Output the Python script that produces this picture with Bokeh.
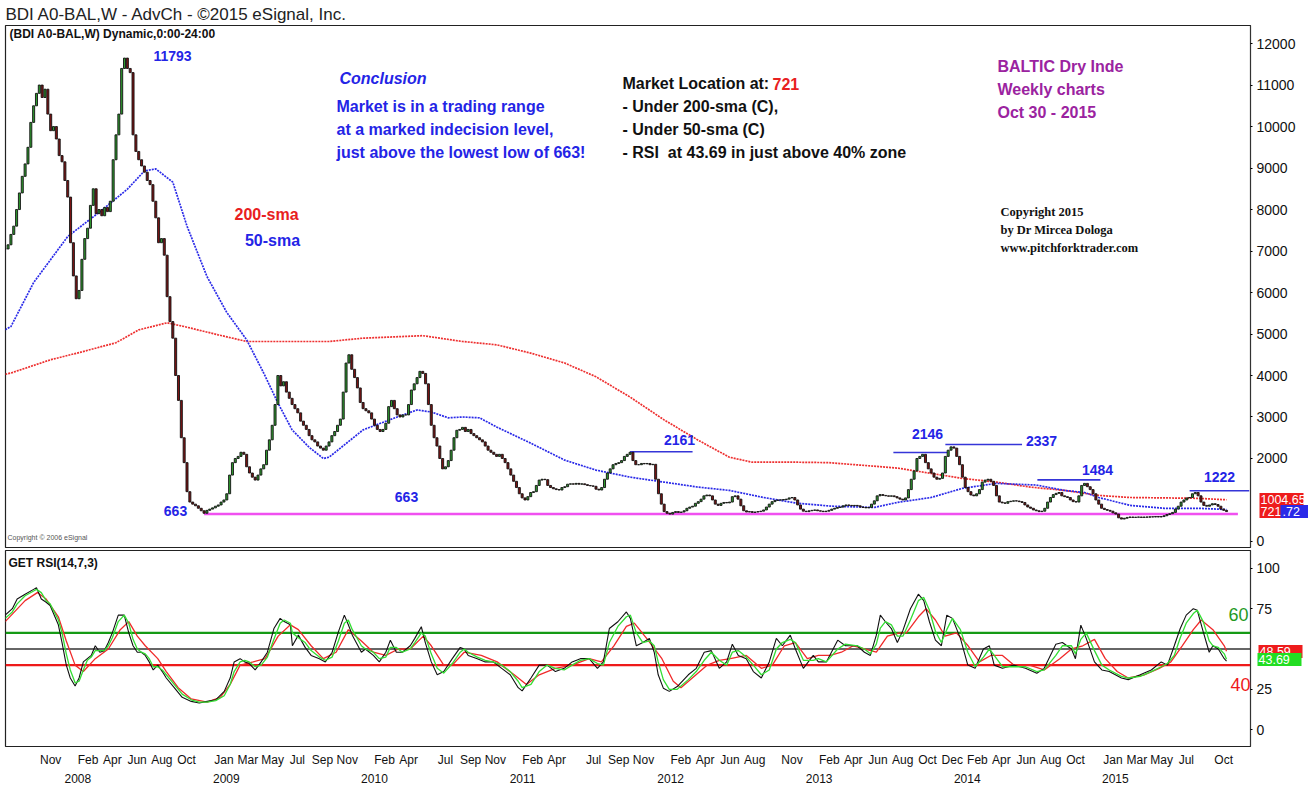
import numpy as np
import pandas as pd
from bokeh.plotting import figure
from bokeh.layouts import column
from bokeh.models import Range1d, LinearAxis, FixedTicker, Label, Span, ColumnDataSource
from bokeh.embed import file_html
from bokeh.resources import INLINE

# ---------------- data ----------------
first_week = "2007-08-03"
closes = [
    7050, 7150, 7400, 7600, 8000, 8400, 8800, 9100, 9500, 10100,
    10500, 10800, 11000, 10700, 10900, 10300, 9900, 10000, 9700, 9300,
    9150, 8700, 8300, 7200, 6400, 5850, 6050, 6800, 7300, 7550,
    8100, 8500, 7900, 8000, 7850, 8050, 7950, 8200, 9200, 9800,
    10300, 11400, 11650, 11400, 11300, 9800, 9400, 9200, 9050, 8900,
    8700, 8600, 8200, 7800, 7200, 7300, 6900, 5900, 5300, 4900,
    4000, 3400, 2500, 1900, 1200, 950, 900, 860, 800, 740,
    680, 750, 780, 810, 850, 880, 950, 1000, 1150, 1600,
    1900, 2000, 2050, 2150, 2100, 1800, 1650, 1550, 1480, 1600,
    1750, 1850, 2200, 2450, 2800, 3300, 4000, 3750, 3850, 3600,
    3450, 3300, 3200, 3100, 2900, 2800, 2700, 2550, 2450, 2400,
    2300, 2250, 2200, 2300, 2400, 2550, 2650, 2800, 2950, 3600,
    4300, 4500, 4150, 3950, 3700, 3350, 3200, 3150, 3100, 2950,
    2800, 2700, 2650, 2700, 2850, 3250, 3400, 3200, 3050, 3000,
    3050, 3050, 3300, 3650, 3800, 3950, 4100, 4050, 3800, 3300,
    2800, 2500, 2300, 2000, 1750, 1800, 1950, 2200, 2500, 2680,
    2700, 2750, 2650, 2700, 2600, 2550, 2500, 2450, 2400, 2300,
    2200, 2150, 2100, 2050, 2100, 2000, 1900, 1750, 1600, 1450,
    1300, 1150, 1050, 1000, 1080, 1180, 1200, 1350, 1480, 1500,
    1490, 1350, 1300, 1270, 1250, 1240, 1300, 1320, 1380, 1390,
    1380, 1400, 1380, 1390, 1370, 1350, 1340, 1330, 1260, 1240,
    1300, 1500, 1650, 1750, 1850, 1880, 1900, 1950, 2050, 2100,
    2150, 1950, 1850, 1850, 1880, 1870, 1880, 1850, 1860, 1500,
    1150, 900, 720, 680, 660, 700, 720, 700, 710, 740,
    800, 830, 850, 920, 960, 1020, 1100, 1120, 1100, 1000,
    900, 870, 920, 940, 930, 950, 1080, 1100, 1020, 860,
    740, 710, 720, 700, 710, 720, 730, 760, 830, 900,
    960, 990, 1000, 1000, 1010, 1020, 1050, 1060, 1000, 880,
    780, 730, 720, 740, 750, 760, 740, 730, 720, 730,
    750, 780, 800, 820, 830, 860, 880, 870, 860, 870,
    860, 830, 820, 810, 820, 900, 980, 1100, 1130, 1110,
    1100, 1090, 1100, 1080, 1050, 1020, 1000, 1050, 1250, 1500,
    1700, 2000, 2050, 2100, 1900, 1750, 1650, 1550, 1500, 1520,
    1650, 2050, 2200, 2280, 2250, 2050, 1850, 1550, 1300, 1200,
    1120, 1100, 1150, 1250, 1430, 1480, 1500, 1450, 1350, 1100,
    950, 930, 920, 960, 970, 980, 975, 960, 940, 880,
    830, 800, 760, 740, 720, 730, 800, 950, 1060, 1130,
    1160, 1180, 1100, 1080, 1060, 1000, 960, 950, 1100, 1350,
    1400, 1320, 1250, 1150, 1000, 900, 800, 770, 750, 730,
    690, 660, 570, 540, 560, 580, 590, 580, 585, 590,
    580, 590, 585, 595, 590, 600, 590, 600, 620, 650,
    670, 700, 780, 850, 950, 1000, 1050, 1060, 1150, 1180,
    1100, 950, 870, 850, 880, 910, 890, 850, 780, 750, 721,
]

sma50_weeks = [0, 2, 10, 22, 33, 43, 49, 53, 59, 64, 71, 78, 85, 91, 96, 101, 107, 112,
               114, 126, 138, 145, 150, 156, 161, 167, 173, 185, 197, 208, 220, 232, 244,
               255, 267, 279, 291, 306, 314, 326, 337, 349, 356, 363, 373, 380, 385, 396,
               408, 420, 430]
sma50_vals = [5100, 5180, 6240, 7350, 7930, 8490, 8930, 8980, 8660, 7600, 6390, 5520, 4860,
              4060, 3340, 2690, 2270, 2000, 2030, 2690, 3000, 3170, 3120, 2980, 3000, 2980,
              2760, 2370, 1960, 1720, 1550, 1430, 1310, 1230, 1060, 920, 850, 820, 940, 1060,
              1280, 1400, 1380, 1360, 1230, 1180, 1060, 870, 800, 800, 770]

sma200_weeks = [0, 2, 16, 27, 39, 47, 57, 63, 75, 85, 98, 114, 126, 147, 161, 173, 185, 197,
                208, 220, 232, 244, 255, 263, 279, 290, 314, 326, 337, 349, 361, 373, 385,
                396, 408, 420, 430]
sma200_vals = [4030, 4060, 4380, 4570, 4790, 5100, 5270, 5180, 4980, 4820, 4820, 4820, 4900,
               4960, 4820, 4740, 4540, 4300, 3970, 3480, 2930, 2440, 2030, 1910, 1910, 1900,
               1770, 1640, 1520, 1430, 1310, 1230, 1110, 1060, 1050, 1040, 1005]

rsi_weeks = [0, 2.5, 4.2, 7, 10, 11, 12.7, 14.4, 15.8, 18.7, 20, 21.5, 22.9, 24.6, 26, 27.5,
             28.9, 30.3, 31.7, 33.3, 34.9, 36.3, 37.7, 39.8, 41.9, 43.5, 45, 46.5, 47.9, 49.3,
             50.7, 52.1, 53.7, 55.3, 56.7, 59.5, 62.3, 65.5, 68.3, 71.1, 74.1, 77.1, 79.2,
             80.6, 82.7, 84.3, 85.9, 88, 90.1, 92.3, 94.6, 96.8, 98.2, 100.4, 101.1, 103.2,
             105.6, 107.7, 110.6, 112.7, 115.1, 117.3, 119.4, 120.8, 122.2, 125.4, 126.8,
             129.6, 131.7, 134, 135.6, 137.7, 139.8, 142.6, 144.2, 146.5, 147.9, 150, 152.1,
             154.4, 157.4, 160.2, 161.6, 163, 166.2, 169, 171.8, 174.8, 177.8, 180.6, 182,
             185.1, 188, 190.8, 193.7, 196.8, 199.6, 202.5, 205.6, 208.5, 210.6, 212.7,
             215.7, 218.7, 220.1, 222.2, 224.5, 226.8, 228.5, 229.9, 231.7, 233.8, 236.6,
             240.5, 243.3, 246.1, 248.6, 251.4, 254, 256, 258.1, 260.9, 263.4, 266.2, 269,
             271.5, 273.6, 276.4, 278.2, 281, 284.5, 286.3, 289.1, 293.1, 295.8, 300, 302.5,
             304.6, 306.7, 308.1, 309.9, 312, 314.1, 316.1, 318.7, 321.5, 323.4, 325.4,
             327.5, 329.6, 331.5, 333.5, 336.3, 338.9, 341.5, 344.4, 346.5, 348.2, 351.1,
             355.1, 359.2, 363.2, 365.8, 369.9, 372.2, 375.4, 376.8, 378.7, 380.6, 383.5,
             386.1, 388.7, 393, 395.4, 399.6, 403.5, 407, 409.2, 411.6, 413.7, 415.8, 418.3,
             419.7, 421.8, 423.9, 425.2, 427.1, 429.2, 430]
rsi_black = [71, 75, 81, 84, 87, 88, 81, 79, 77, 65, 54, 40, 32, 27, 32, 42, 44, 46, 52, 48,
             49, 54, 60, 71, 71, 60, 52, 48, 48, 46, 42, 37, 40, 36, 32, 26, 20, 17.5, 16.5,
             17.5, 18.5, 23.7, 32, 42, 44, 42, 41, 37, 42, 48, 62.7, 69, 67, 65, 52, 58.6, 51,
             46, 44, 42, 48, 60.6, 71, 65, 58.6, 48, 50, 46, 42, 48, 55.5, 48, 48, 52, 56.6,
             63.8, 54, 42, 34, 36, 44, 51, 50, 46, 44, 42, 42, 38, 34, 26, 24, 32, 40, 40, 36,
             38, 42, 44, 44, 38, 42, 62.7, 66.9, 73, 69, 52, 54, 56.6, 48, 34, 25.7, 23.7,
             26.7, 34, 38, 48, 49, 38, 42, 53, 46, 44, 36, 32, 42, 56.6, 52, 58.6, 50, 38, 46,
             42, 42, 55.5, 52, 52, 48, 46, 58.6, 71, 66.9, 62.7, 54, 61.7, 75, 84, 80, 66.9,
             55.5, 52, 71, 69, 56.6, 40, 38, 50, 52, 40, 38, 40, 38, 35, 38, 53, 54, 50, 44,
             64.8, 56.6, 42, 37, 36, 32, 31, 34, 37, 42, 40, 52, 62.7, 71, 75, 74, 60.6, 48,
             52, 50, 44, 42.5]
rsi_green = [69, 73, 78, 83, 86, 87, 85, 80, 78, 68, 60, 47, 37, 29, 30, 37, 43, 45, 49, 49,
             49, 52, 57, 67, 71, 66, 56, 50, 48, 47, 44, 39, 39, 37, 34, 28, 22, 18.5, 17, 17,
             18, 21, 28, 36, 42, 43, 42, 39, 40, 45, 56, 66, 68, 66, 60, 57, 54, 49, 45, 43,
             45, 55, 66, 68, 62, 52, 50, 48, 44, 45, 51, 51, 48, 50, 54, 60, 58, 47, 38, 35,
             41, 48, 50, 48, 45, 43, 42, 40, 36, 30, 26, 28, 36, 40, 38, 37, 40, 43, 44, 41,
             40, 54, 64, 70, 71, 60, 54, 55, 52, 42, 31, 25, 25, 31, 36, 43, 48, 43, 40, 48,
             49, 45, 40, 34, 37, 50, 54, 56, 54, 43, 43, 44, 42, 50, 53, 52, 50, 47, 53, 63,
             67, 65, 58, 58, 68, 80, 82, 74, 61, 54, 62, 69, 62, 48, 39, 45, 50, 46, 39, 39,
             39, 36, 37, 46, 52, 52, 47, 56, 60, 49, 40, 37, 33, 32, 33, 36, 39, 41, 46, 57,
             66, 72, 74, 67, 55, 52, 51, 47, 43.69]
red_weeks = [0, 7, 11.3, 14.4, 18.7, 21.5, 24.6, 27.5, 31.7, 36.3, 40.5, 43.5, 46.5, 49.3,
             53.7, 56.7, 60.9, 65.5, 71.1, 75.7, 79.2, 82.7, 87.3, 91.5, 96.1, 100.4, 103.2,
             107.7, 112, 116.5, 120.8, 125.4, 129.6, 134, 138.4, 142.6, 147.2, 150, 154.4,
             157.4, 161.6, 167.6, 173.2, 179.2, 183.5, 188, 193.7, 199.6, 205.6, 209.9, 214.3,
             218.7, 221.5, 226.1, 231.2, 235.2, 237.9, 241.9, 247.2, 251.4, 255.3, 260.9,
             266.2, 270.1, 274.3, 278.2, 282.4, 286.3, 290.5, 294.4, 298.6, 302.5, 306.7,
             310.6, 314.8, 317.3, 321.5, 324.2, 327.5, 330.9, 334.9, 339, 343, 347, 351.1,
             355.1, 360.6, 365.8, 371.3, 375.4, 379.4, 383.5, 387.3, 391.5, 395.4, 401, 406.3,
             410.4, 414.4, 418.3, 421.1, 425.2, 429.2, 430]
rsi_red = [67, 80, 85, 81, 70, 55, 40, 36, 44, 50, 62, 67, 58, 52, 44, 36, 26, 19, 17, 20, 28,
           40, 42, 44, 58, 65, 62, 52, 44, 48, 62, 55, 48, 46, 50, 50, 58, 52, 40, 40, 48, 46,
           42, 34, 28, 34, 38, 40, 44, 42, 52, 64, 66, 56, 44, 30, 26, 32, 40, 43, 44, 46, 38,
           40, 52, 54, 44, 46, 46, 48, 52, 50, 48, 58, 60, 60, 70, 75, 68, 58, 60, 52, 42, 46,
           46, 40, 40, 37, 44, 50, 52, 56, 44, 36, 32, 34, 38, 42, 52, 62, 68, 62, 52, 48.59]

support_level = 663
support_weeks = [70, 434]
res_levels = [2161, 2146, 2337, 1484, 1222]
res_start_weeks = [220, 312.7, 331, 363.4, 417]
res_end_weeks = [242, 331.7, 358, 385.6, 438]
rsi_levels = [60, 50, 40]

last_values_red = [1004.65, 721]          # 200-sma and close, shown on the price axis
last_values_red_text = ["1004.65", "721"]
last_sma50 = [721]
last_sma50_text = [".72"]
last_rsi_red = [48.59]
last_rsi_green = [43.69]

month_ticks = ["2007-11", "2008-02", "2008-04", "2008-06", "2008-08", "2008-10",
               "2009-01", "2009-03", "2009-05", "2009-07", "2009-09", "2009-11",
               "2010-02", "2010-04", "2010-07", "2010-09", "2010-11",
               "2011-02", "2011-04", "2011-07", "2011-09", "2011-11",
               "2012-02", "2012-04", "2012-06", "2012-08", "2012-11",
               "2013-02", "2013-04", "2013-06", "2013-08", "2013-10", "2013-12",
               "2014-02", "2014-04", "2014-06", "2014-08", "2014-10",
               "2015-01", "2015-03", "2015-05", "2015-07", "2015-10"]
year_ticks = [2008, 2009, 2010, 2011, 2012, 2013, 2014, 2015]
price_ticks = [0, 2000, 3000, 4000, 5000, 6000, 7000, 8000, 9000, 10000, 11000, 12000]
rsi_ticks = [0, 25, 75, 100]

# ---------------- helpers ----------------
EPOCH = pd.Timestamp("2007-01-01")
D0 = (pd.Timestamp(first_week) - EPOCH).days


def wk(w):
    return D0 + np.asarray(w, dtype=float) * 7.0


def day_of(s):
    return (pd.Timestamp(s) - EPOCH).days


PXD = 148.2 / 365.25          # pixels per day in the reference
PXV = 496.0 / 12000.0         # pixels per price unit
PXR = 1.62                    # pixels per RSI unit


def tx(xp):
    return 365 + (xp - 66) / PXD


def vy(yp):
    return (541 - yp) / PXV


def ry(yp):
    return (730 - yp) / PXR


SANS = "'Liberation Sans', Arial, sans-serif"
SERIF = "'Liberation Serif', serif"
BLUE = "#2424e6"
RED = "#e82020"
PURPLE = "#9b23a0"
GREEN_C = "#2f9a2f"
RED_C = "#7e1414"

W = 1308
MBR = 58
MBL = 5


def style_value_axis(a, ticks, size="14px"):
    a.ticker = FixedTicker(ticks=ticks)
    a.major_label_text_font = SANS
    a.major_label_text_font_size = size
    a.major_label_text_color = "#111111"
    a.major_tick_in = 0
    a.major_tick_out = 2
    a.minor_tick_line_color = None
    a.axis_line_color = "#333333"
    a.major_label_standoff = 4


def box_axis(fig, ticks, texts, color, tick_in, tick_out, standoff):
    a = LinearAxis(ticker=FixedTicker(ticks=ticks),
                   major_label_overrides=dict(zip(ticks, texts)))
    a.major_tick_in = tick_in
    a.major_tick_out = tick_out
    a.major_tick_line_width = 13
    a.major_tick_line_color = color
    a.major_tick_line_cap = "butt"
    a.minor_tick_line_color = None
    a.axis_line_color = None
    a.major_label_standoff = standoff
    a.major_label_text_color = "white"
    a.major_label_text_font = SANS
    a.major_label_text_font_size = "12.5px"
    fig.add_layout(a, "right")
    return a


# ---------------- price panel ----------------
p1 = figure(width=W, height=548, x_range=Range1d(tx(MBL), tx(1250)),
            y_range=Range1d(vy(548), vy(27)), x_axis_location=None,
            y_axis_location="right", toolbar_location=None, output_backend="svg",
            min_border_left=MBL, min_border_right=MBR, min_border_top=0,
            min_border_bottom=0, title="BDI A0-BAL,W - AdvCh - \u00a92015 eSignal, Inc.")
p1.title.text_font = SANS
p1.title.text_font_size = "17px"
p1.title.text_font_style = "normal"
p1.title.text_color = "#222222"
p1.title.standoff = 4
p1.grid.visible = False
p1.outline_line_color = "#222222"
p1.outline_line_width = 1.2
p1.background_fill_color = "white"
p1.border_fill_color = "white"
style_value_axis(p1.yaxis[0], price_ticks)

# SMAs
p1.line(wk(sma200_weeks), sma200_vals, line_color="#ee3030", line_width=1.7, line_dash="2 1")
p1.line(wk(sma50_weeks), sma50_vals, line_color="#2a2ae8", line_width=1.7, line_dash="2 1")

# support / resistance
p1.segment(x0=wk(support_weeks[0]), y0=support_level, x1=wk(support_weeks[1]), y1=support_level,
           line_color="#f050f0", line_width=2.6)
p1.segment(x0=wk(res_start_weeks), y0=res_levels, x1=wk(res_end_weeks), y1=res_levels,
           line_color="#3535d8", line_width=1.6)

# candles (open = previous close)
n = len(closes)
xs = wk(np.arange(n))
c = np.array(closes, dtype=float)
o = np.r_[c[0], c[:-1]]
up = c >= o
top = np.maximum(o, c)
bot = np.minimum(o, c)
src_up = ColumnDataSource(dict(x=xs[up], top=top[up], bottom=bot[up]))
src_dn = ColumnDataSource(dict(x=xs[~up], top=top[~up], bottom=bot[~up]))
p1.vbar(x="x", top="top", bottom="bottom", width=5.0, fill_color=GREEN_C,
        line_color="#111111", line_width=0.9, source=src_up)
p1.vbar(x="x", top="top", bottom="bottom", width=5.0, fill_color=RED_C,
        line_color="#111111", line_width=0.9, source=src_dn)


def lab(fig, conv, xp, yp, text, size, color, align="left", style="bold", font=SANS):
    fig.add_layout(Label(x=tx(xp), y=conv(yp), text=text, text_align=align,
                         text_baseline="middle", text_font_size=f"{size}px", text_font=font,
                         text_font_style=style, text_color=color))


lab(p1, vy, 9, 35, "(BDI A0-BAL,W) Dynamic,0:00-24:00", 12, "#111111")
lab(p1, vy, 172, 57, "11793", 14, BLUE, align="center")
lab(p1, vy, 339, 80, "Conclusion", 16, BLUE, style="bold italic")
lab(p1, vy, 336, 108, "Market is in a trading range", 16, BLUE)
lab(p1, vy, 336, 131, "at a marked indecision level,", 16, BLUE)
lab(p1, vy, 336, 154, "just above the lowest low of 663!", 16, BLUE)
lab(p1, vy, 622, 85, "Market Location at:", 16, "#111111")
lab(p1, vy, 772, 85, "721", 16, RED)
lab(p1, vy, 622, 108, "- Under 200-sma (C),", 16, "#111111")
lab(p1, vy, 622, 131, "- Under 50-sma (C)", 16, "#111111")
lab(p1, vy, 622, 154, "- RSI\u00a0 at 43.69 in just above 40% zone", 16, "#111111")
lab(p1, vy, 997, 68, "BALTIC Dry Inde", 16, PURPLE)
lab(p1, vy, 997, 91, "Weekly charts", 16, PURPLE)
lab(p1, vy, 997, 114, "Oct 30 - 2015", 16, PURPLE)
lab(p1, vy, 1000, 213, "Copyright 2015", 12.5, "#111111", font=SERIF)
lab(p1, vy, 1000, 231, "by Dr Mircea Dologa", 12.5, "#111111", font=SERIF)
lab(p1, vy, 1000, 249, "www.pitchforktrader.com", 12.5, "#111111", font=SERIF)
lab(p1, vy, 266, 215, "200-sma", 16, RED, align="center")
lab(p1, vy, 272, 241, "50-sma", 16, BLUE, align="center")
lab(p1, vy, 175, 511, "663", 14, BLUE, align="center")
lab(p1, vy, 406, 497, "663", 14, BLUE, align="center")
lab(p1, vy, 679, 440, "2161", 14, BLUE, align="center")
lab(p1, vy, 927, 434, "2146", 14, BLUE, align="center")
lab(p1, vy, 1041, 441, "2337", 14, BLUE, align="center")
lab(p1, vy, 1097, 470, "1484", 14, BLUE, align="center")
lab(p1, vy, 1219, 477, "1222", 14, BLUE, align="center")
lab(p1, vy, 7, 537, "Copyright \u00a9 2006 eSignal", 7, "#555555", style="normal")

# value boxes on the price axis (thick ticks of extra axes)
box_axis(p1, last_values_red, last_values_red_text, "#ee1c1c", tick_in=39, tick_out=5, standoff=-43)
box_axis(p1, last_sma50, last_sma50_text, "#2a2ae8", tick_in=28, tick_out=0, standoff=-26)

# ---------------- RSI panel ----------------
p2 = figure(width=W, height=237, x_range=p1.x_range, y_range=Range1d(ry(747), ry(550)),
            y_axis_location="right", toolbar_location=None, output_backend="svg",
            min_border_left=MBL, min_border_right=MBR, min_border_top=2, min_border_bottom=0)
p2.grid.visible = False
p2.outline_line_color = "#222222"
p2.outline_line_width = 1.2
p2.background_fill_color = "white"
p2.border_fill_color = "white"
style_value_axis(p2.yaxis[0], rsi_ticks)

level_colors = ["#159a15", "#333333", "#ee1a1a"]
level_widths = [2.2, 1.3, 2.2]
for lv, lc, lw in zip(rsi_levels, level_colors, level_widths):
    p2.add_layout(Span(location=lv, dimension="width", line_color=lc, line_width=lw,
                       level="underlay"))

p2.line(wk(red_weeks), rsi_red, line_color="#f02a2a", line_width=1.3)
p2.line(wk(rsi_weeks), rsi_black, line_color="#111111", line_width=1.1)
p2.line(wk(rsi_weeks), rsi_green, line_color="#33dd33", line_width=1.3)

lab(p2, ry, 8, 563, "GET RSI(14,7,3)", 12, "#111111")
lab(p2, ry, 1238, 614, "60", 18, "#1f9a1f", align="center", style="normal")
lab(p2, ry, 1240, 685, "40", 18, "#ee1a1a", align="center", style="normal")

box_axis(p2, last_rsi_red, ["48.59"], "#ee1c1c", tick_in=24, tick_out=20, standoff=-43)
box_axis(p2, last_rsi_green, ["43.69"], "#22dd22", tick_in=36, tick_out=8, standoff=-43)

# x axes: months and years
MONTH_SHIFT = 22   # labels start at the month boundary
YEAR_SHIFT = 28
mt = [int(day_of(m + "-01") + MONTH_SHIFT) for m in month_ticks]
mlabels = {t: pd.Timestamp(m + "-01").strftime("%b") for t, m in zip(mt, month_ticks)}
yt = [int(day_of(f"{y}-01-01") + YEAR_SHIFT) for y in year_ticks]
ylabels = {t: str(y) for t, y in zip(yt, year_ticks)}

xa = p2.xaxis[0]
xa.ticker = FixedTicker(ticks=mt)
xa.major_label_overrides = mlabels
xa.major_tick_line_color = None
xa.minor_tick_line_color = None
xa.axis_line_color = None
xa.major_label_standoff = 0
xa.major_label_text_font = SANS
xa.major_label_text_font_size = "12px"
xa.major_label_text_color = "#111111"

ya = LinearAxis(ticker=FixedTicker(ticks=yt), major_label_overrides=ylabels)
ya.major_tick_line_color = None
ya.minor_tick_line_color = None
ya.axis_line_color = None
ya.major_label_standoff = -2
ya.major_label_text_font = SANS
ya.major_label_text_font_size = "12px"
ya.major_label_text_color = "#111111"
p2.add_layout(ya, "below")

layout = column(p1, p2, spacing=0)
open("out.html", "w").write(file_html(layout, INLINE))
